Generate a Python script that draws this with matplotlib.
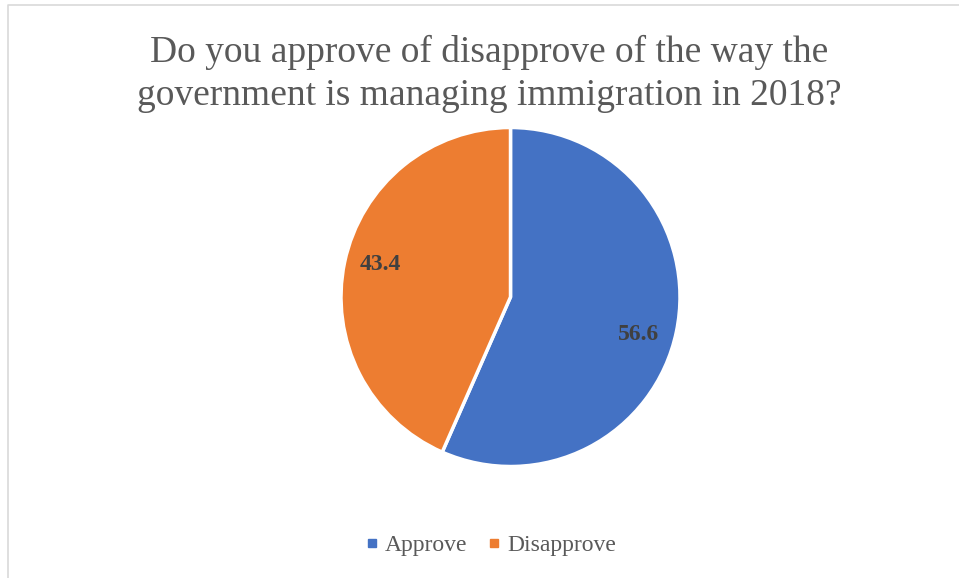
import numpy as np
import matplotlib.pyplot as plt
from matplotlib.lines import Line2D

categories = ["Approve", "Disapprove"]
values = [56.6, 43.4]
colors = ["#4472C4", "#ED7D31"]
title = "Do you approve of disapprove of the way the\ngovernment is managing immigration in 2018?"

plt.rcParams['font.family'] = ['Liberation Serif', 'DejaVu Serif']

W, H = 959, 578
fig = plt.figure(figsize=(W / 100, H / 100), dpi=100)
ax = fig.add_axes([0, 0, 1, 1])
ax.set_xlim(0, W)
ax.set_ylim(0, H)
ax.set_aspect('equal')
ax.axis('off')

# chart border (only left and top visible in the crop)
ax.plot([8, 8, W], [0, H - 5, H - 5], color="#D9D9D9", lw=1.2, solid_capstyle='butt')

cx, cy, r = 510.5, H - 297, 169.5
wedges, _ = ax.pie(values, colors=colors, startangle=90, counterclock=False,
                   center=(cx, cy), radius=r,
                   wedgeprops=dict(edgecolor='white', linewidth=2.5))
ax.set_xlim(0, W)
ax.set_ylim(0, H)

# label placement (fraction of radius, angle tweak in degrees)
label_dist = [0.785, 0.79]
label_turn = [-4.3, -2.0]
for w, v, d, t in zip(wedges, values, label_dist, label_turn):
    ang = np.deg2rad((w.theta1 + w.theta2) / 2 + t)
    ax.text(cx + d * r * np.cos(ang), cy + d * r * np.sin(ang), f"{v}",
            ha='center', va='center', fontsize=17, fontweight='bold', color="#404040")

ax.text(489, H - 74, title, ha='center', va='center', fontsize=27,
        color="#595959", linespacing=1.3)

handles = [Line2D([], [], marker='s', ls='', color=c, markersize=5.5) for c in colors]
leg = fig.legend(handles, categories, loc='center', bbox_to_anchor=(488 / W, 1 - 545 / H),
                 ncol=2, frameon=False, fontsize=17, handletextpad=0.05, columnspacing=0.62,
                 handlelength=1.0)
for t in leg.get_texts():
    t.set_color("#595959")

fig.savefig("out.png", dpi=100)
